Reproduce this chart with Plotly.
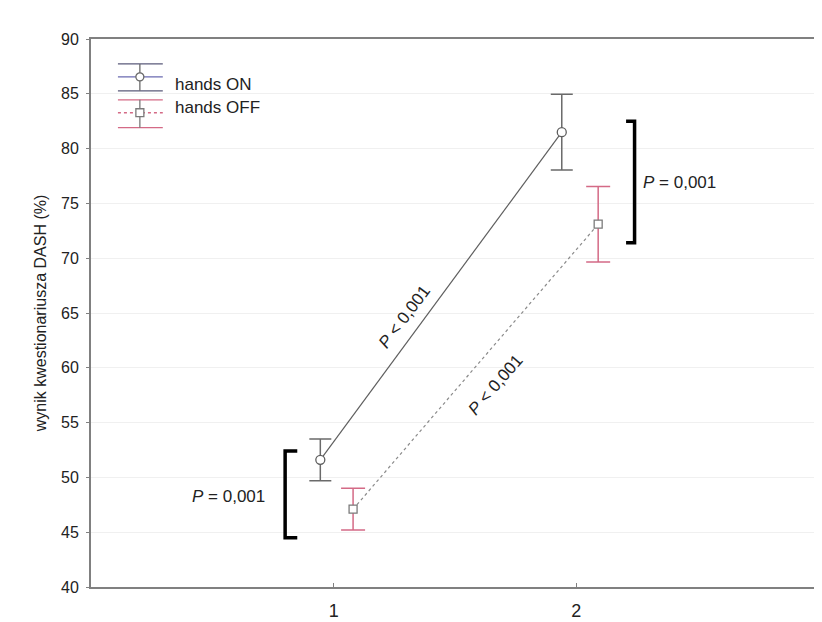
import plotly.graph_objects as go

# ---- data ----
groups = [1, 2]
on_x = [0.945, 1.94]
off_x = [1.08, 2.09]
on_mean = [51.6, 81.5]
on_err = [1.9, 3.45]
off_mean = [47.1, 73.1]
off_err = [1.9, 3.45]
series_names = ["hands ON", "hands OFF"]
y_ticks = [40, 45, 50, 55, 60, 65, 70, 75, 80, 85, 90]

W, H = 822, 622
L, R, T, B = 83, 9, 31, 41
PW, PH = W - L - R, H - T - B
FONT = "Liberation Sans, Arial, sans-serif"

def px2paper(px, py):
    return (px - L) / PW, (H - B - py) / PH

fig = go.Figure()

fig.add_trace(go.Scatter(
    x=on_x, y=on_mean, mode="lines+markers", name=series_names[0],
    line=dict(color="#5e5e5e", width=1.2),
    marker=dict(symbol="circle", size=9, color="white", line=dict(color="#5e5e5e", width=1.3)),
    error_y=dict(type="data", array=on_err, visible=True, color="#6a6a6a", thickness=1.5, width=11),
    showlegend=False,
))
fig.add_trace(go.Scatter(
    x=off_x, y=off_mean, mode="lines+markers", name=series_names[1],
    line=dict(color="#8a8a8a", width=1.2, dash="dot"),
    marker=dict(symbol="square", size=8, color="white", line=dict(color="#7a7a7a", width=1.3)),
    error_y=dict(type="data", array=off_err, visible=True, color="#d46a86", thickness=1.5, width=12),
    showlegend=False,
))

shapes = []
annotations = []

# significance brackets
br_right = dict(x=2.24, x_tip=2.205, y0=71.4, y1=82.5)
br_left = dict(x=0.8, x_tip=0.85, y0=44.5, y1=52.4)
for br in (br_right, br_left):
    path = (f"M {br['x_tip']},{br['y1']} L {br['x']},{br['y1']} "
            f"L {br['x']},{br['y0']} L {br['x_tip']},{br['y0']}")
    shapes.append(dict(type="path", path=path, xref="x", yref="y",
                       line=dict(color="black", width=3.5)))

font_txt = dict(family=FONT, size=17, color="#222")
annotations.append(dict(x=2.265, y=76.9, xref="x", yref="y", xanchor="left", yanchor="middle",
                        text="<i>P</i> = 0,001", showarrow=False, font=font_txt))
annotations.append(dict(x=0.725, y=48.3, xref="x", yref="y", xanchor="right", yanchor="middle",
                        text="<i>P</i> = 0,001", showarrow=False, font=font_txt))
annotations.append(dict(x=1.29, y=64.6, xref="x", yref="y",
                        text="<i>P</i> < 0,001", showarrow=False, textangle=-53, font=font_txt))
annotations.append(dict(x=1.665, y=58.4, xref="x", yref="y",
                        text="<i>P</i> < 0,001", showarrow=False, textangle=-49, font=font_txt))

# hand-drawn legend (error-bar glyphs)
def hline(px0, px1, py, color, dash="solid", width=1.3):
    x0, y0 = px2paper(px0, py)
    x1, _ = px2paper(px1, py)
    shapes.append(dict(type="line", xref="paper", yref="paper", x0=x0, x1=x1, y0=y0, y1=y0,
                       line=dict(color=color, width=width, dash=dash)))

def vline(px, py0, py1, color, width=1.3):
    x0, y0 = px2paper(px, py0)
    _, y1 = px2paper(px, py1)
    shapes.append(dict(type="line", xref="paper", yref="paper", x0=x0, x1=x0, y0=y0, y1=y1,
                       line=dict(color=color, width=width)))

lx0, lx1, lxc = 110, 155, 132
# ON
hline(lx0, lx1, 56, "#5a5a7a")
hline(lx0, lx1, 69, "#6a6ab0")
hline(lx0, lx1, 83, "#5a5a7a")
vline(lxc, 56, 83, "#6a6a6a")
cx, cy = px2paper(lxc, 69)
rx, ry = 4 / PW, 4 / PH
shapes.append(dict(type="circle", xref="paper", yref="paper", x0=cx - rx, x1=cx + rx,
                   y0=cy - ry, y1=cy + ry, fillcolor="white", line=dict(color="#6a6a6a", width=1.3)))
# OFF
hline(lx0, lx1, 92, "#d46a86")
hline(lx0, lx1, 105, "#d46a86", dash="dot")
hline(lx0, lx1, 120, "#d46a86")
vline(lxc, 92, 120, "#7a7a7a")
sx, sy = px2paper(lxc, 105)
shapes.append(dict(type="rect", xref="paper", yref="paper", x0=sx - rx, x1=sx + rx,
                   y0=sy - ry, y1=sy + ry, fillcolor="white", line=dict(color="#7a7a7a", width=1.3)))

for name, py in zip(series_names, (77, 100)):
    ax, ay = px2paper(165, py)
    annotations.append(dict(x=ax, y=ay, xref="paper", yref="paper", xanchor="left", yanchor="middle",
                            text=name, showarrow=False,
                            font=dict(family=FONT, size=17, color="#222")))

fig.update_layout(
    width=W, height=H,
    margin=dict(l=L, r=R, t=T, b=B),
    paper_bgcolor="white", plot_bgcolor="white",
    shapes=shapes, annotations=annotations,
    xaxis=dict(range=[0, 3], tickvals=groups, ticktext=[str(g) for g in groups],
               showgrid=False, zeroline=False, showline=True, mirror=True,
               linecolor="#808080", linewidth=2, ticks="inside", ticklen=4, tickcolor="#808080",
               ticklabelstandoff=6,
               tickfont=dict(family=FONT, size=18, color="#222")),
    yaxis=dict(range=[40, 90], tickvals=y_ticks, showgrid=True, gridcolor="#f0f0f0", gridwidth=1,
               zeroline=False, showline=True, mirror=True, linecolor="#808080", linewidth=2,
               ticks="outside", ticklen=3, tickcolor="#808080", ticklabelstandoff=4,
               tickfont=dict(family=FONT, size=16, color="#222"),
               title=dict(text="wynik kwestionariusza DASH (%)", font=dict(family=FONT, size=16, color="#222"), standoff=10)),
)

fig.write_html("out.html")
